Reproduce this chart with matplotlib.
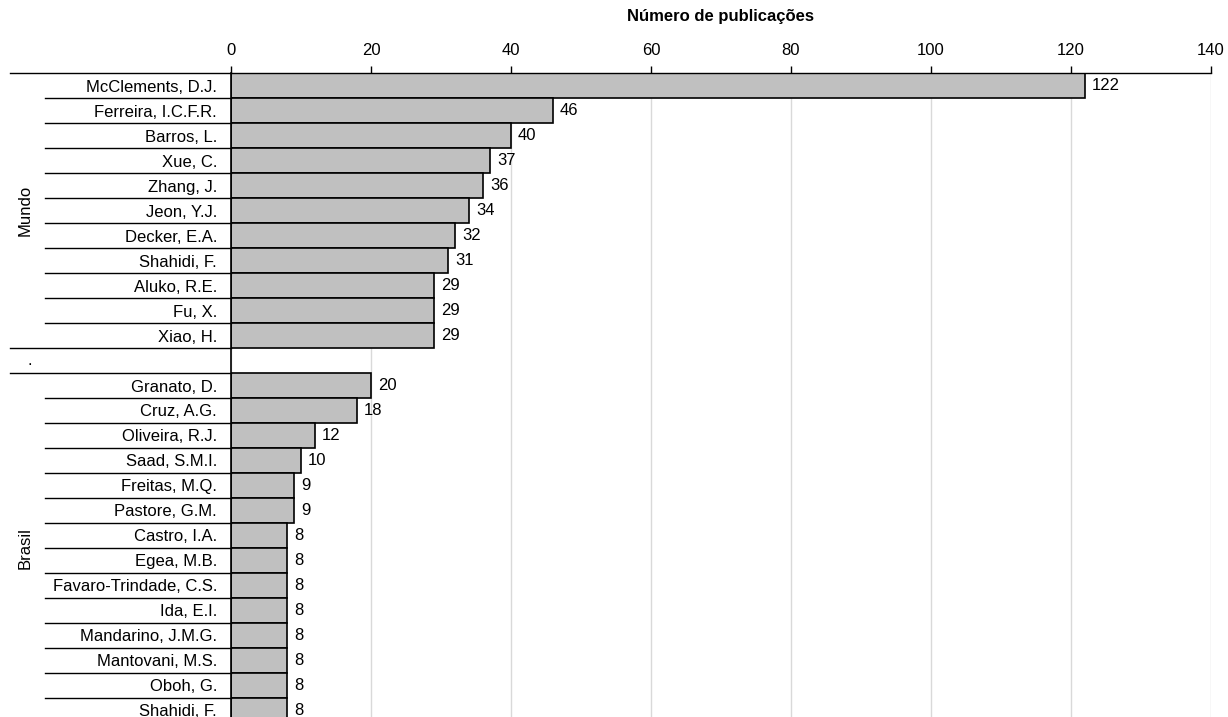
import matplotlib.pyplot as plt
import numpy as np

plt.rcParams['font.family'] = ['Liberation Sans', 'DejaVu Sans']

# autores com mais publicações: mundo e brasil
autores_mundo = ["McClements, D.J.", "Ferreira, I.C.F.R.", "Barros, L.", "Xue, C.",
                 "Zhang, J.", "Jeon, Y.J.", "Decker, E.A.", "Shahidi, F.",
                 "Aluko, R.E.", "Fu, X.", "Xiao, H."]
pub_mundo = [122, 46, 40, 37, 36, 34, 32, 31, 29, 29, 29]

autores_brasil = ["Granato, D.", "Cruz, A.G.", "Oliveira, R.J.", "Saad, S.M.I.",
                  "Freitas, M.Q.", "Pastore, G.M.", "Castro, I.A.", "Egea, M.B.",
                  "Favaro-Trindade, C.S.", "Ida, E.I.", "Mandarino, J.M.G.",
                  "Mantovani, M.S.", "Oboh, G.", "Shahidi, F."]
pub_brasil = [20, 18, 12, 10, 9, 9, 8, 8, 8, 8, 8, 8, 8, 8]

x_ticks = [0, 20, 40, 60, 80, 100, 120, 140]

fs = 12

# linha vazia entre os grupos
nomes = autores_mundo + [""] + autores_brasil
n_mundo = len(autores_mundo)
pos_mundo = np.arange(n_mundo)
pos_brasil = np.arange(len(autores_brasil)) + n_mundo + 1
ypos = np.arange(len(nomes))

fig = plt.figure(figsize=(12.28, 7.17), dpi=100)
ax = fig.add_axes([0.1881, -0.0077, 0.798, 0.9052])

for pos, vals in [(pos_mundo, pub_mundo), (pos_brasil, pub_brasil)]:
    bars = ax.barh(pos, vals, height=1.0, color="#c0c0c0", edgecolor="black",
                   linewidth=1.2, zorder=2)
    for b, v in zip(bars, vals):
        ax.annotate(str(v), (v, b.get_y() + b.get_height() / 2), xytext=(5, 0),
                    textcoords="offset points", va="center", ha="left", fontsize=fs)

ax.set_xlim(0, 140)
ax.set_ylim(len(nomes) - 0.5, -0.5)
ax.set_xticks(x_ticks)
ax.xaxis.tick_top()
ax.tick_params(axis="x", direction="out", length=5, width=1, pad=6, labelsize=fs)
ax.grid(axis="x", color="#d9d9d9", linewidth=1, zorder=0)

ax.set_yticks(ypos)
ax.set_yticklabels(nomes, fontsize=fs)
ax.tick_params(axis="y", length=0, pad=10)

for s in ["right", "bottom"]:
    ax.spines[s].set_visible(False)
ax.spines["left"].set_linewidth(1.2)
ax.spines["top"].set_linewidth(1)

# linhas separadoras dos rótulos de categoria
tr = ax.get_yaxis_transform()
limites = np.arange(len(nomes) + 1) - 0.5
longas = {-0.5, n_mundo - 0.5, n_mundo + 0.5, len(nomes) - 0.5}
for y in limites:
    x0 = -0.2255 if y in longas else -0.1898
    ax.plot([x0, 0], [y, y], transform=tr, color="black", linewidth=1,
            clip_on=False, zorder=3)

ax.text(-0.205, n_mundo, ".", transform=tr, ha="center", va="center", fontsize=fs)
ax.text(-0.210, (n_mundo - 1) / 2, "Mundo", transform=tr, rotation=90,
        ha="center", va="center", fontsize=fs)
ax.text(-0.210, (pos_brasil[0] + pos_brasil[-1]) / 2, "Brasil", transform=tr,
        rotation=90, ha="center", va="center", fontsize=fs)

fig.text(0.587, 1 - 17 / 717, "Número de publicações", ha="center", va="center",
         fontsize=fs, fontweight="bold")

fig.savefig("out.png", dpi=100)
